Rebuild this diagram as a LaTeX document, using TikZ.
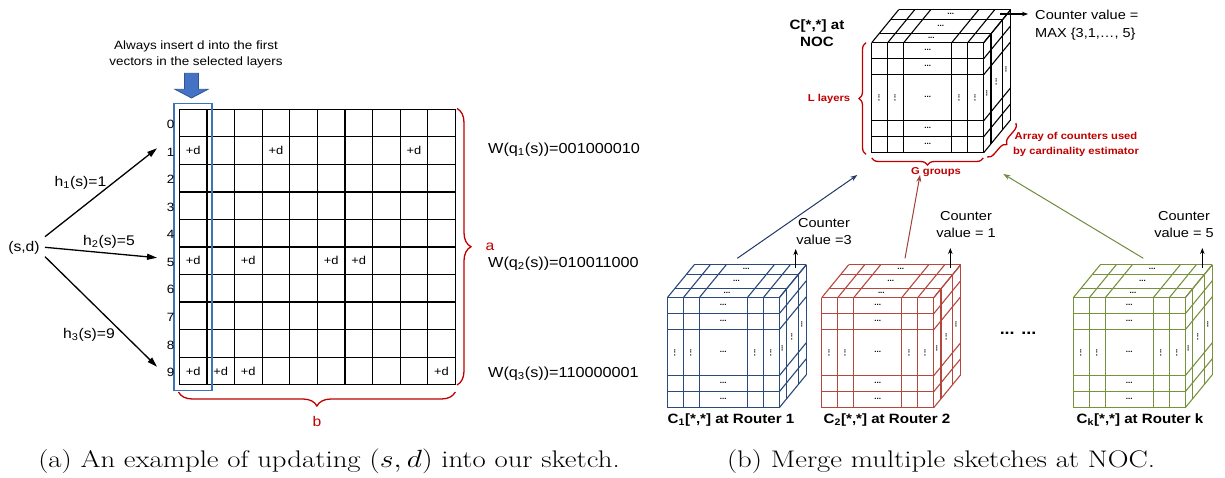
\documentclass[tikz,border=0pt]{standalone}
\usepackage{fontspec}
\setsansfont{Liberation Sans}
\usetikzlibrary{arrows.meta,decorations.pathreplacing}
\definecolor{cred}{HTML}{C00000}
\definecolor{cblue}{HTML}{3D74B8}
\definecolor{cfill}{HTML}{4472C4}
\definecolor{cedge}{HTML}{2F5597}
\definecolor{navy}{HTML}{2A4A7B}
\definecolor{navyl}{HTML}{1F3864}
\definecolor{rred}{HTML}{B5473D}
\definecolor{rredl}{HTML}{A0403A}
\definecolor{olive}{HTML}{76923C}
\definecolor{olivel}{HTML}{6E8B3D}
\newcommand\fsz[2]{\fontsize{#1}{#2}\selectfont}
\tikzset{
  sx/.style={xscale=1.12},
  txt/.style={sx, inner sep=0pt, font=\sffamily\fsz{14}{17}},
  wtxt/.style={sx, inner sep=0pt, font=\sffamily\fsz{14.5}{17}},
  ctxt/.style={sx, inner sep=0pt, font=\sffamily\fsz{13}{16.7}},
  ntxt/.style={sx, inner sep=0pt, font=\sffamily\fsz{13}{18.6}},
  small/.style={sx, inner sep=0pt, font=\sffamily\fsz{12}{16}},
  celltxt/.style={sx, inner sep=0pt, font=\sffamily\fsz{11.5}{14}},
  boldl/.style={sx, inner sep=0pt, font=\sffamily\bfseries\fsz{13.5}{16.7}},
  bigdots/.style={sx, inner sep=0pt, font=\sffamily\bfseries\fsz{16}{18}},
  redl/.style={sx, inner sep=0pt, text=cred, font=\sffamily\bfseries\fsz{10}{14.4}},
  redt/.style={sx, inner sep=0pt, text=cred, font=\sffamily\fsz{14}{17}},
  hdots/.style={inner sep=0pt, anchor=base, font=\sffamily\bfseries\fsz{8}{8}},
  vdots/.style={hdots, rotate=90},
  gridline/.style={line width=1.2, black},
  cl/.style={line width=1.1},
  brc/.style={decorate, decoration={brace, amplitude=#1}, draw=cred, line width=1.3},
  arr/.style={line width=1.3, -{Triangle[length=10,width=6]}},
  longarr/.style={line width=1, -{Stealth[length=7,width=5]}},
  uparr/.style={line width=1.1, -{Stealth[length=6,width=4.5]}},
  captxt/.style={xscale=1.2, inner sep=0pt, anchor=base, font=\rmfamily\fsz{24}{29}}
}
\newcommand\drawcube[4]{%
\begin{scope}[shift={(#1,#2)}]
  \foreach \cx in {0,16,32,80,96,112}{
    \draw[cl,#3] (\cx,0) -- (\cx,110);
    \draw[cl,#3] (\cx,0) -- (\cx+27,-33);}
  \foreach \ry in {0,16,32,78,94,110}{
    \draw[cl,#3] (0,\ry) -- (112,\ry);
    \draw[cl,#3] (112,\ry) -- (139,\ry-33);}
  \foreach \dd in {0.27,0.7,1}{
    \draw[cl,#3] (27*\dd,-33*\dd) -- (112+27*\dd,-33*\dd);
    \draw[cl,#3] (112+27*\dd,-33*\dd) -- (112+27*\dd,110-33*\dd);}
  \foreach \yy [count=\n] in {8,24,55,86,102}
    \node[hdots] (#4f\n) at (56,\yy) {...};
  \foreach \xx [count=\n] in {8,24,88,104}
    \node[vdots] (#4v\n) at (\xx,55) {...};
  \foreach \dd [count=\n] in {0.135,0.485,0.85}{
    \node[hdots] (#4t\n) at (56+27*\dd,-33*\dd) {...};
    \node[vdots] (#4r\n) at (112+27*\dd,55-33*\dd) {...};}
\end{scope}}
\begin{document}
\begin{tikzpicture}[x=1pt,y=-1pt]
\useasboundingbox (0,0) rectangle (1225,477);
% ---------------- left panel ----------------
\node[small, align=center] (note) at (196,54) {Always insert d into the first\\vectors in the selected layers};
\draw[fill=cfill, draw=cedge, line width=0.8] (184.5,73.3) -- (198.5,73.3) -- (198.5,89.3) -- (208,89.3) -- (191.5,98) -- (175,89.3) -- (184.5,89.3) -- cycle;
% grid
\foreach \i in {0,...,10}{
  \draw[gridline] (179.3+27.6*\i,109.3) -- (179.3+27.6*\i,384.7);
  \draw[gridline] (179.3,109.3+27.54*\i) -- (455.3,109.3+27.54*\i);}
\draw[cblue, line width=1.8] (174,103.5) rectangle (212.3,390.5);
\foreach \i in {0,...,9}
  \node[small, anchor=east] (row\i) at (174.5,124.6+27.54*\i) {\i};
\foreach \cc/\rr [count=\n] in {0/1,3/1,8/1,0/5,2/5,5/5,6/5,0/9,1/9,2/9,9/9}
  \node[celltxt] (pd\n) at (179.3+27.6*\cc+13.8,109.3+27.54*\rr+13.8) {+d};
% braces
\draw[brc=14] (457,108.5) -- (457,385);
\node[redt] (la) at (490,247) {a};
\draw[brc=14] (455.3,392) -- (178.5,392);
\node[redt] (lb) at (317,421) {b};
% W labels
\node[wtxt, anchor=west] (w1) at (488,149.3) {W(q\textsubscript{1}(s))=001000010};
\node[wtxt, anchor=west] (w2) at (488,264) {W(q\textsubscript{2}(s))=010011000};
\node[wtxt, anchor=west] (w3) at (488,373.3) {W(q\textsubscript{3}(s))=110000001};
% (s,d) and hash arrows
\node[txt] (sd) at (24,248) {(s,d)};
\node[txt] (h1) at (80.5,183) {h\textsubscript{1}(s)=1};
\node[txt] (h2) at (109,242) {h\textsubscript{2}(s)=5};
\node[txt] (h3) at (89,335) {h\textsubscript{3}(s)=9};
\coordinate (a1s) at (45,236.7);
\coordinate (a1e) at (157,148.3);
\coordinate (a2s) at (45,247.3);
\coordinate (a2e) at (157,257.7);
\coordinate (a3s) at (45,256.7);
\coordinate (a3e) at (157,366.7);
\draw[arr] (a1s) -- (a1e);
\draw[arr] (a2s) -- (a2e);
\draw[arr] (a3s) -- (a3e);
% ---------------- right panel ----------------
\drawcube{871.7}{42.7}{black}{noc}
\drawcube{667.3}{297.7}{navy}{ca}
\drawcube{821.7}{297.7}{rred}{cb}
\drawcube{1073.3}{297.7}{olive}{ck}
\node[boldl, align=center] (noct) at (817,33) {C[*,*] at\\NOC};
\node[ntxt, align=left, anchor=west] (maxv) at (1035,25) {Counter value =\\MAX \{3,1,…, 5\}};
\coordinate (ms) at (1000,14);
\coordinate (me) at (1028,14);
\draw[uparr] (ms) -- (me);
\draw[brc=7] (866,154.3) -- (866,42.7);
\node[redl] (ll) at (829,99.3) {L layers};
\draw[brc=7] (983.3,158) -- (871.7,158);
\node[redl] (lg) at (936,172.3) {G groups};
\draw[brc=7] (1016,123) -- (987,157);
\node[redl, align=center] (larr) at (1076,144.5) {Array of counters used\\by cardinality estimator};
% router labels
\node[boldl] (l1) at (731,420) {C\textsubscript{1}[*,*] at Router 1};
\node[boldl] (l2) at (887,420) {C\textsubscript{2}[*,*] at Router 2};
\node[boldl] (lk) at (1140,420) {C\textsubscript{k}[*,*] at Router k};
\node[bigdots] (ell) at (1018,333) {... ...};
% counter values
\node[ctxt, align=center] (cv1) at (824,231.5) {Counter\\value =3};
\node[ctxt, align=center] (cv2) at (966,224.5) {Counter\\value = 1};
\node[ctxt, align=center] (cvk) at (1184,224.5) {Counter\\value = 5};
\coordinate (u1s) at (795.7,268);
\coordinate (u1e) at (795.7,249);
\coordinate (u2s) at (950.3,268);
\coordinate (u2e) at (950.3,248);
\coordinate (uks) at (1202.3,268);
\coordinate (uke) at (1202.3,248);
\draw[uparr] (u1s) -- (u1e);
\draw[uparr] (u2s) -- (u2e);
\draw[uparr] (uks) -- (uke);
% merge arrows
\coordinate (m1s) at (737.3,258.3);
\coordinate (m1e) at (857.3,175);
\coordinate (m2s) at (905,258.3);
\coordinate (m2e) at (920,175);
\coordinate (mks) at (1143.3,258.3);
\coordinate (mke) at (1003.3,174);
\draw[longarr, navyl] (m1s) -- (m1e);
\draw[longarr, rredl] (m2s) -- (m2e);
\draw[longarr, olivel] (mks) -- (mke);
% captions
\node[captxt] (capa) at (329,467.7) {(a) An example of updating $(s,d)$ into our sketch.};
\node[captxt] (capb) at (941,467.7) {(b) Merge multiple sketches at NOC.};
\end{tikzpicture}
\end{document}
